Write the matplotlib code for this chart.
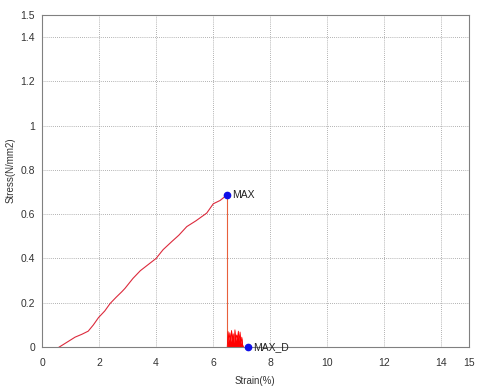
import matplotlib.pyplot as plt

plt.rcParams["font.family"] = ["Liberation Sans", "DejaVu Sans"]

# loading curve up to peak
strain = [0.60, 0.85, 1.16, 1.40, 1.62, 1.80, 1.98, 2.20, 2.39, 2.60, 2.80, 2.91,
          3.19, 3.45, 3.70, 4.00, 4.25, 4.55, 4.80, 5.08, 5.40, 5.78, 6.01, 6.25, 6.50]
stress = [0.000, 0.020, 0.045, 0.058, 0.072, 0.100, 0.133, 0.163, 0.197, 0.225, 0.250, 0.265,
          0.310, 0.345, 0.370, 0.400, 0.440, 0.476, 0.505, 0.544, 0.570, 0.605, 0.647, 0.662, 0.688]

# post-failure chatter near zero load
noise_strain = [6.50, 6.53, 6.56, 6.59, 6.62, 6.65, 6.68, 6.71, 6.74, 6.77, 6.80, 6.83,
                6.86, 6.89, 6.92, 6.95, 6.98, 7.01, 7.04, 7.07]
noise_stress = [0.000, 0.070, 0.030, 0.065, 0.025, 0.075, 0.035, 0.060, 0.020, 0.078, 0.030,
                0.055, 0.040, 0.072, 0.028, 0.068, 0.015, 0.045, 0.010, 0.000]

max_point = (6.50, 0.688)
max_d_point = (7.23, 0.0)

x_ticks = [0, 2, 4, 6, 8, 10, 12, 14, 15]
y_ticks = [0, 0.2, 0.4, 0.6, 0.8, 1.0, 1.2, 1.4, 1.5]
y_tick_labels = ["0", "0.2", "0.4", "0.6", "0.8", "1", "1.2", "1.4", "1.5"]

fig = plt.figure(figsize=(4.78, 3.9), dpi=100)
ax = fig.add_axes([0.088, 0.110, 0.894, 0.852])

ax.plot(strain, stress, color="#dc2a3c", lw=0.8)
ax.plot([max_point[0], max_point[0]], [max_point[1], 0], color="#e8603c", lw=0.8)
ax.fill_between(noise_strain, noise_stress, 0, color="#ff0000", lw=0)
ax.plot(noise_strain, noise_stress, color="#ff0000", lw=0.6)
ax.plot([noise_strain[-1], max_d_point[0]], [0, 0], color="#ff0000", lw=0.6)

ax.plot(*max_point, "o", color="#1010e8", ms=4.5)
ax.plot(*max_d_point, "o", color="#1010e8", ms=4.5, clip_on=False, zorder=5)
ax.text(max_point[0] + 0.18, max_point[1], "MAX", fontsize=7.5, va="center", color="#222222")
ax.text(max_d_point[0] + 0.18, max_d_point[1], "MAX_D", fontsize=7.5, va="center", color="#222222")

ax.set_xlim(0, 15)
ax.set_ylim(0, 1.5)
ax.set_xticks(x_ticks)
ax.set_yticks(y_ticks)
ax.set_yticklabels(y_tick_labels)
ax.tick_params(length=0, labelsize=7.5, labelcolor="#333333")
ax.tick_params(axis="y", pad=5)
ax.tick_params(axis="x", pad=8)
ax.grid(True, color="#999999", ls=(0, (1, 1.5)), lw=0.6)
for s in ax.spines.values():
    s.set_color("#808080")
    s.set_linewidth(0.8)

ax.set_xlabel("Strain(%)", fontsize=7, color="#333333")
ax.set_ylabel("Stress(N/mm2)", fontsize=7, color="#333333")
ax.xaxis.set_label_coords(0.497, -0.088)
ax.yaxis.set_label_coords(-0.062, 0.533)

fig.savefig("out.png", dpi=100)
